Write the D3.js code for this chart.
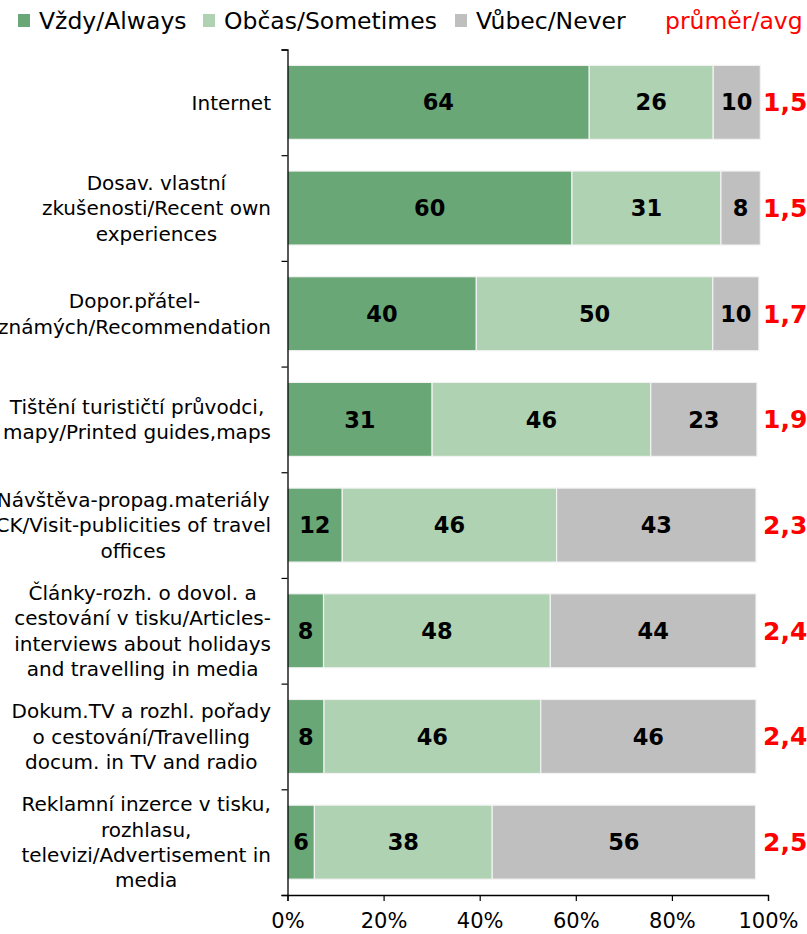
<!DOCTYPE html>
<html>
<head>
<meta charset="utf-8">
<script src="https://cdn.jsdelivr.net/npm/d3@7"></script>
<style>
  html, body { margin: 0; padding: 0; background: #fff; overflow: hidden; }
  svg { display: block; }
  text { font-family: "DejaVu Sans", Verdana, sans-serif; }
</style>
</head>
<body>
<svg id="chart" width="807" height="934"></svg>
<script>
// ---- data ----
const categories = [
  ["Internet"],
  ["Dosav. vlastní", "zkušenosti/Recent own", "experiences"],
  ["Dopor.přátel-", "známých/Recommendation"],
  ["Tištění turističtí průvodci,", "mapy/Printed guides,maps"],
  ["Návštěva-propag.materiály", "CK/Visit-publicities of travel", "offices"],
  ["Články-rozh. o dovol. a", "cestování v tisku/Articles-", "interviews about holidays", "and travelling in media"],
  ["Dokum.TV a rozhl. pořady", "o cestování/Travelling", "docum. in TV and radio"],
  ["Reklamní inzerce v tisku,", "rozhlasu,", "televizi/Advertisement in", "media"]
];
const seriesNames = ["Vždy/Always", "Občas/Sometimes", "Vůbec/Never"];
const always    = [62.8, 59.2, 39.3, 30.1, 11.4, 7.5, 7.6, 5.6];
const sometimes = [25.8, 31.0, 49.2, 45.5, 44.6, 47.2, 45.1, 37.0];
const never     = [9.8, 8.2, 9.6, 22.1, 41.5, 42.8, 44.8, 54.8];
const alwaysLabels    = [64, 60, 40, 31, 12, 8, 8, 6];
const sometimesLabels = [26, 31, 50, 46, 46, 48, 46, 38];
const neverLabels     = [10, 8, 10, 23, 43, 44, 46, 56];
const averages = ["1,5", "1,5", "1,7", "1,9", "2,3", "2,4", "2,4", "2,5"];
const avgLegend = "průměr/avg";
const xTicks = [0, 20, 40, 60, 80, 100];

// ---- layout ----
const colors = ["#69a777", "#afd2b2", "#bfbfbf"];
const svg = d3.select("#chart");
const x = d3.scaleLinear().domain([0, 100]).range([287.5, 768]);
const y = d3.scaleBand().domain(d3.range(categories.length)).range([49.5, 895]).paddingInner(0.3).paddingOuter(0.15);

const rows = categories.map((c, i) => ({
  i,
  vals: [always[i], sometimes[i], never[i]],
  labels: [alwaysLabels[i], sometimesLabels[i], neverLabels[i]],
  avg: averages[i]
}));
const stackData = rows.map(r => ({ i: r.i, s0: r.vals[0], s1: r.vals[1], s2: r.vals[2] }));
const stack = d3.stack().keys(["s0", "s1", "s2"]);
const series = stack(stackData);

// bars
const g = svg.append("g");
series.forEach((ser, si) => {
  g.selectAll(null).data(ser).enter().append("rect")
    .attr("x", d => x(d[0]))
    .attr("width", d => x(d[1]) - x(d[0]))
    .attr("y", d => y(d.data.i))
    .attr("height", y.bandwidth())
    .attr("fill", colors[si])
    .attr("stroke", "#f2f2f2")
    .attr("stroke-width", 1.2);
  g.selectAll(null).data(ser).enter().append("text")
    .attr("x", d => (x(d[0]) + x(d[1])) / 2)
    .attr("y", d => y(d.data.i) + y.bandwidth() / 2)
    .attr("dy", "0.36em")
    .attr("text-anchor", "middle")
    .attr("font-size", 22.5)
    .attr("font-weight", "bold")
    .attr("fill", "#000")
    .text((d, k) => rows[k].labels[si]);
});

// averages
g.selectAll(null).data(rows).enter().append("text")
  .attr("x", 763)
  .attr("y", d => y(d.i) + y.bandwidth() / 2)
  .attr("dy", "0.36em")
  .attr("font-size", 25)
  .attr("font-weight", "bold")
  .attr("fill", "#ff0000")
  .text(d => d.avg);

// y axis
const yAxisScale = d3.scaleLinear().domain([0, categories.length]).range([49.5, 895]);
const yAxis = svg.append("g").attr("transform", "translate(287.5,0)")
  .call(d3.axisLeft(yAxisScale).tickValues(d3.range(categories.length + 1)).tickSize(6).tickFormat(""));
yAxis.select(".domain").attr("stroke", "#000").attr("stroke-width", 1.3);
yAxis.selectAll(".tick line").attr("stroke", "#000").attr("stroke-width", 1.2);

// x axis
const xAxis = svg.append("g").attr("transform", "translate(0,895)")
  .call(d3.axisBottom(x).tickValues(xTicks).tickSize(6).tickFormat(d => d + "%"));
xAxis.select(".domain").attr("stroke", "#000").attr("stroke-width", 1.3);
xAxis.selectAll(".tick text").attr("font-size", 21).attr("font-family", "DejaVu Sans").attr("fill", "#000").attr("y", 33).attr("dy", 0);
xAxis.selectAll(".tick line").attr("stroke", "#000").attr("stroke-width", 1.2);

// category labels
const lineH = 25.3;
const labG = svg.append("g");
categories.forEach((lines, i) => {
  const cy = y(i) + y.bandwidth() / 2;
  const tg = labG.append("g");
  const texts = lines.map((ln, k) => tg.append("text")
    .attr("font-size", 20)
    .attr("fill", "#000")
    .attr("text-anchor", "middle")
    .attr("y", cy + (k - (lines.length - 1) / 2) * lineH)
    .attr("dy", "0.36em")
    .text(ln));
  const maxW = d3.max(texts, t => t.node().getComputedTextLength());
  const cx = 271 - maxW / 2;
  texts.forEach(t => t.attr("x", cx));
});

// legend
const legX = [18, 203, 455];
const legG = svg.append("g");
seriesNames.forEach((n, i) => {
  legG.append("rect").attr("x", legX[i]).attr("y", 14).attr("width", 12).attr("height", 13).attr("fill", colors[i]);
  legG.append("text").attr("x", legX[i] + 21).attr("y", 29).attr("font-size", 23.5).attr("fill", "#000").text(n);
});
legG.append("text").attr("x", 665).attr("y", 29).attr("font-size", 23.5).attr("fill", "#ff0000").text(avgLegend);
</script>
</body>
</html>
